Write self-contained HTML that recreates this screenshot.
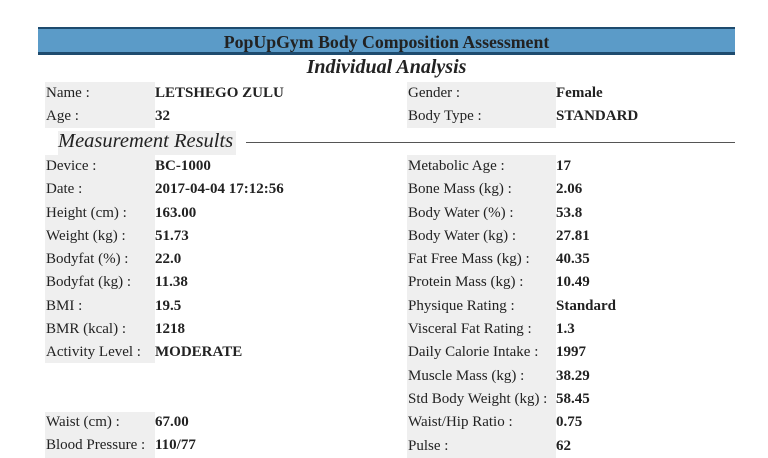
<!DOCTYPE html>
<html><head><style>
body{margin:0;width:768px;height:458px;background:#fff;position:relative;overflow:hidden;font-family:"Liberation Serif",serif;color:#222}
.a{position:absolute;white-space:nowrap}
.g{position:absolute;background:#efefef}
.l{font-size:15px;line-height:23.3px}
.v{font-size:15px;line-height:23.3px;font-weight:bold}
</style></head><body>
<div class="a" style="left:38px;top:27px;width:697px;height:23px;background:#5b9bc8;border-top:2px solid #1e4b6e;border-bottom:3px solid #1e4b6e"></div>
<div class="a" style="left:38px;top:29px;width:697px;text-align:center;font-size:17.8px;font-weight:bold;line-height:26px">PopUpGym Body Composition Assessment</div>
<div class="a" style="left:38px;top:55px;width:697px;text-align:center;font-size:20px;font-weight:bold;font-style:italic;line-height:24px">Individual Analysis</div>

<div class="g" style="left:45px;top:82px;width:110px;height:46px"></div>
<div class="g" style="left:407px;top:82px;width:149px;height:46px"></div>
<div class="g" style="left:45px;top:155px;width:110px;height:208px"></div>
<div class="g" style="left:407px;top:155px;width:149px;height:303px"></div>
<div class="g" style="left:45px;top:412px;width:110px;height:46px"></div>
<div class="g" style="left:58px;top:131px;width:178px;height:24px"></div>

<div class="a" style="left:58px;top:129px;font-size:20.5px;font-style:italic;line-height:24px">Measurement Results</div>
<div class="a" style="left:246px;top:142px;width:489px;height:1px;background:#555"></div>

<div class="a l" style="left:46px;top:82px">Name :<br>Age :</div>
<div class="a v" style="left:155px;top:82px">LETSHEGO ZULU<br>32</div>
<div class="a l" style="left:408px;top:82px">Gender :<br>Body Type :</div>
<div class="a v" style="left:556px;top:82px">Female<br>STANDARD</div>

<div class="a l" style="left:46px;top:155px">Device :<br>Date :<br>Height (cm) :<br>Weight (kg) :<br>Bodyfat (%) :<br>Bodyfat (kg) :<br>BMI :<br>BMR (kcal) :<br>Activity Level :</div>
<div class="a v" style="left:155px;top:155px">BC-1000<br>2017-04-04 17:12:56<br>163.00<br>51.73<br>22.0<br>11.38<br>19.5<br>1218<br>MODERATE</div>
<div class="a l" style="left:46px;top:411px">Waist (cm) :<br>Blood Pressure :</div>
<div class="a v" style="left:155px;top:411px">67.00<br>110/77</div>

<div class="a l" style="left:408px;top:155px">Metabolic Age :<br>Bone Mass (kg) :<br>Body Water (%) :<br>Body Water (kg) :<br>Fat Free Mass (kg) :<br>Protein Mass (kg) :<br>Physique Rating :<br>Visceral Fat Rating :<br>Daily Calorie Intake :<br>Muscle Mass (kg) :<br>Std Body Weight (kg) :<br>Waist/Hip Ratio :<br>Pulse :</div>
<div class="a v" style="left:556px;top:155px">17<br>2.06<br>53.8<br>27.81<br>40.35<br>10.49<br>Standard<br>1.3<br>1997<br>38.29<br>58.45<br>0.75<br>62</div>
</body></html>
